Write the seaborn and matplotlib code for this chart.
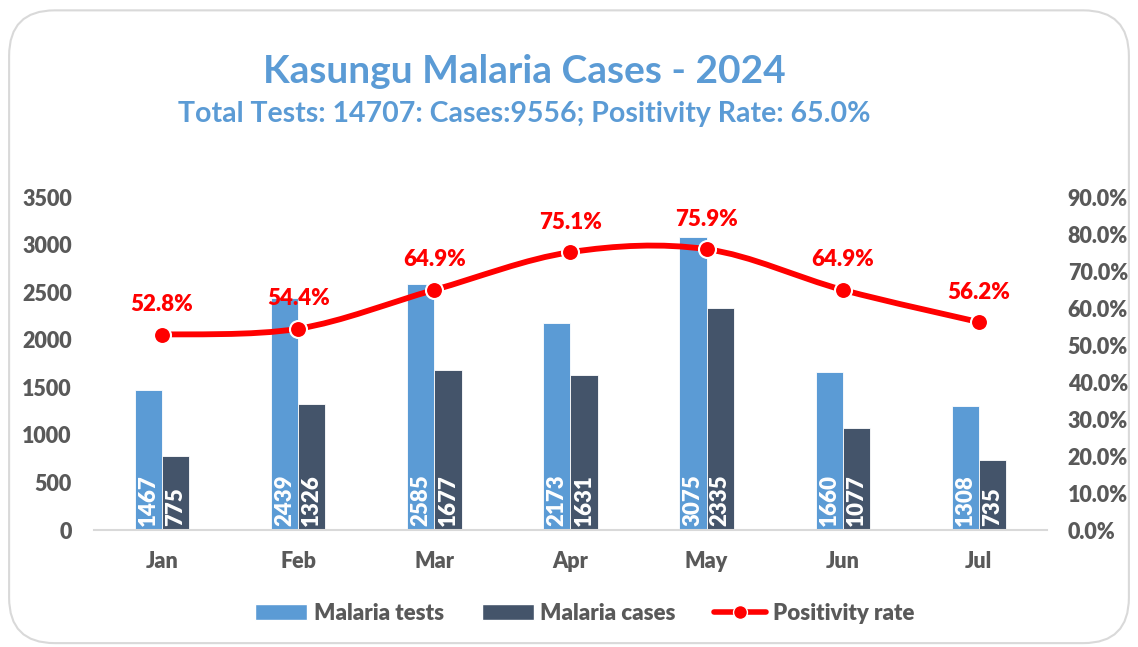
import numpy as np
import pandas as pd
import matplotlib
matplotlib.use("Agg")
import matplotlib.pyplot as plt
import seaborn as sns
from matplotlib.path import Path
from matplotlib.patches import PathPatch, FancyBboxPatch, Patch
from matplotlib.lines import Line2D
from matplotlib.ticker import FuncFormatter

# Data
months = ["Jan", "Feb", "Mar", "Apr", "May", "Jun", "Jul"]
malaria_tests = [1467, 2439, 2585, 2173, 3075, 1660, 1308]
malaria_cases = [775, 1326, 1677, 1631, 2335, 1077, 735]
positivity = [52.8, 54.4, 64.9, 75.1, 75.9, 64.9, 56.2]

title = "Kasungu Malaria Cases - 2024"
subtitle = "Total Tests: 14707: Cases:9556; Positivity Rate: 65.0%"

c_tests = "#5B9BD5"
c_cases = "#44546A"
c_line = "#FF0000"
c_text = "#595959"
w = "heavy"

sns.set_style("white")
plt.rcParams["font.family"] = ["Lato", "DejaVu Sans"]
plt.rcParams["font.weight"] = w

df = pd.DataFrame({
    "month": months * 2,
    "value": malaria_tests + malaria_cases,
    "series": ["Malaria tests"] * len(months) + ["Malaria cases"] * len(months),
})

fig = plt.figure(figsize=(11.38, 6.47), dpi=100, facecolor="white")

# rounded frame around the chart
frame = FancyBboxPatch((0.008, 0.006), 0.984, 0.978, boxstyle="round,pad=0,rounding_size=0.04",
                       transform=fig.transFigure, facecolor="none", edgecolor="#D9D9D9",
                       linewidth=1.5, mutation_aspect=1138 / 647, zorder=-1)
fig.patches.append(frame)

ax = fig.add_axes([0.0826, 0.1808, 0.8374, 0.5147])
ax.set_facecolor("none")
sns.barplot(data=df, x="month", y="value", hue="series", order=months,
            palette=[c_tests, c_cases], saturation=1, width=0.4, gap=0, ax=ax,
            legend=False, edgecolor="white", linewidth=0.6)

ax.set_xlim(-0.5, len(months) - 0.5)
ax.set_ylim(0, 3500)
ax.set_yticks(range(0, 3501, 500))
ax.set_xlabel("")
ax.set_ylabel("")
for s in ["top", "left", "right"]:
    ax.spines[s].set_visible(False)
ax.spines["bottom"].set_color("#D9D9D9")
ax.spines["bottom"].set_linewidth(1.5)
ax.tick_params(axis="y", length=0, pad=16, labelsize=15.5, labelcolor=c_text)
ax.tick_params(axis="x", length=0, pad=15, labelsize=15.5, labelcolor=c_text)

# values inside bars
for cont in ax.containers:
    for bar in cont:
        h = bar.get_height()
        ax.text(bar.get_x() + bar.get_width() / 2, 45, f"{int(round(h))}",
                rotation=90, ha="center", va="bottom", color="white",
                fontsize=16, fontweight=w)

# positivity rate on right axis
ax2 = ax.twinx()
ax2.set_ylim(0, 90)
ax2.set_yticks(np.arange(0, 91, 10))
ax2.yaxis.set_major_formatter(FuncFormatter(lambda v, p: f"{v:.1f}%"))
ax2.tick_params(axis="y", length=0, pad=15, labelsize=15.5, labelcolor=c_text)
for s in ["top", "left", "right", "bottom"]:
    ax2.spines[s].set_visible(False)

for lab in ax.get_xticklabels() + ax.get_yticklabels() + ax2.get_yticklabels():
    lab.set_fontweight(w)

# smoothed line (Catmull-Rom style bezier, like Excel's smoothed line)
xs = np.arange(len(months), dtype=float)
pts = np.column_stack([xs, positivity])
verts = [tuple(pts[0])]
codes = [Path.MOVETO]
n = len(pts)
for i in range(n - 1):
    p0 = pts[max(i - 1, 0)]
    p1 = pts[i]
    p2 = pts[i + 1]
    p3 = pts[min(i + 2, n - 1)]
    c1 = p1 + (p2 - p0) / 6
    c2 = p2 - (p3 - p1) / 6
    verts += [tuple(c1), tuple(c2), tuple(p2)]
    codes += [Path.CURVE4] * 3
ax2.add_patch(PathPatch(Path(verts, codes), facecolor="none", edgecolor=c_line,
                        linewidth=4.2, capstyle="round", zorder=3))
sns.scatterplot(x=xs, y=positivity, ax=ax2, color=c_line, s=150,
                edgecolor="white", linewidth=1.5, zorder=4, legend=False)
for x, v in zip(xs, positivity):
    ax2.annotate(f"{v:.1f}%", (x, v), xytext=(0, 14), textcoords="offset points",
                 ha="center", va="bottom", color=c_line, fontsize=16, fontweight=w)

fig.text(0.461, 0.89, title, ha="center", va="center", color=c_tests,
         fontsize=28, fontweight="bold")
fig.text(0.461, 0.824, subtitle, ha="center", va="center", color=c_tests,
         fontsize=20.5, fontweight="bold")

handles = [
    Patch(facecolor=c_tests, label="Malaria tests"),
    Patch(facecolor=c_cases, label="Malaria cases"),
    Line2D([0], [0], color=c_line, linewidth=4, marker="o", markersize=10,
           markerfacecolor=c_line, markeredgecolor="white", label="Positivity rate"),
]
leg = fig.legend(handles=handles, loc="center", bbox_to_anchor=(0.5135, 0.052), ncol=3,
                 frameon=False, fontsize=16, handlelength=2.35, handleheight=0.75,
                 columnspacing=1.7, handletextpad=0.3)
for t in leg.get_texts():
    t.set_color(c_text)
    t.set_fontweight(w)

fig.savefig("out.png", dpi=100)
